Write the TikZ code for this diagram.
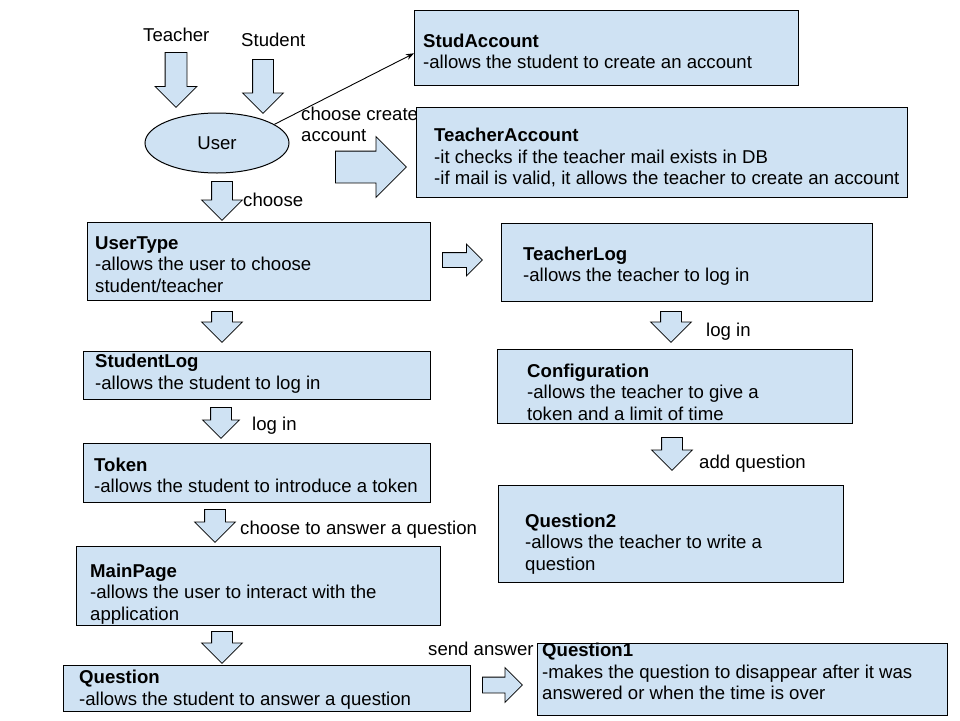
\documentclass[tikz,border=0pt]{standalone}
\usepackage{fontspec}
\setmainfont{Liberation Sans}
\usetikzlibrary{shapes.geometric,shapes.arrows,arrows.meta,calc}
\definecolor{boxfill}{HTML}{CFE2F3}
\tikzset{
  every node/.style={font=\fontsize{18.6}{21.5}\selectfont},
  box/.style={draw=black, line width=1pt, fill=boxfill, anchor=north west, inner sep=0pt},
  % multi-line texts are placed by the baseline of their last line
  desc/.style={anchor=base west, align=left, inner sep=0pt},
  lbl/.style={anchor=base west, align=left, inner sep=0pt},
  blockarrow/.style={single arrow, draw=black, line width=0.8pt, fill=boxfill, anchor=tail,
    inner xsep=0pt, single arrow tip angle=90, single arrow head indent=0pt},
  downarrow/.style={blockarrow, rotate=-90, inner ysep=10pt, single arrow head extend=10pt},
}
\begin{document}
\begin{tikzpicture}[x=1pt, y=-1pt]
\useasboundingbox (0,0) rectangle (960,720);

% boxes
\node[box, minimum width=384, minimum height=75] (studacc) at (414,10) {};
\node[box, minimum width=491, minimum height=90] (teachacc) at (416,107) {};
\node[box, minimum width=343, minimum height=78] (usertype) at (87,222) {};
\node[box, minimum width=371, minimum height=78] (teacherlog) at (501,223) {};
\node[box, minimum width=347, minimum height=48] (studentlog) at (83,351) {};
\node[box, minimum width=355, minimum height=74] (config) at (497,349) {};
\node[box, minimum width=347, minimum height=59] (token) at (83,443) {};
\node[box, minimum width=345, minimum height=97] (question2) at (498,485) {};
\node[box, minimum width=364, minimum height=79] (mainpage) at (76,546) {};
\node[box, minimum width=407, minimum height=46] (question) at (63,665) {};
\node[box, minimum width=410, minimum height=72] (question1) at (537,643) {};

% box texts
\node[desc] (tStudacc) at (423,68.5) {\textbf{StudAccount}\\-allows the student to create an account};
\node[desc] (tTeachacc) at (434,184.5) {\textbf{TeacherAccount}\\-it checks if the teacher mail exists in DB\\-if mail is valid, it allows the teacher to create an account};
\node[desc] (tUsertype) at (95,292) {\textbf{UserType}\\-allows the user to choose\\student/teacher};
\node[desc] (tTeacherlog) at (523,281.5) {\textbf{TeacherLog}\\-allows the teacher to log in};
\node[desc] (tStudentlog) at (95,389) {\textbf{StudentLog}\\-allows the student to log in};
\node[desc] (tConfig) at (527,420) {\textbf{Configuration}\\-allows the teacher to give a\\token and a limit of time};
\node[desc] (tToken) at (94,492.5) {\textbf{Token}\\-allows the student to introduce a token};
\node[desc] (tQuestion2) at (525,570) {\textbf{Question2}\\-allows the teacher to write a\\question};
\node[desc] (tMainpage) at (90,620) {\textbf{MainPage}\\-allows the user to interact with the\\application};
\node[desc] (tQuestion) at (79,705) {\textbf{Question}\\-allows the student to answer a question};
\node[desc] (tQuestion1) at (542,699.5) {\textbf{Question1}\\-makes the question to disappear after it was\\answered or when the time is over};

% user ellipse
\node[ellipse, draw=black, line width=1pt, fill=boxfill, minimum width=144, minimum height=60, inner sep=0pt] (user) at (217,143) {User};

% free labels
\node[lbl] (lTeacher) at (143,41.7) {Teacher};
\node[lbl] (lStudent) at (241,46.7) {Student};
\node[lbl] (lCreate) at (301,141.7) {choose create\\account};
\node[lbl] (lChoose) at (243,206.7) {choose};
\node[lbl] (lLogT) at (706,336) {log in};
\node[lbl] (lLogS) at (252,430) {log in};
\node[lbl] (lAddQ) at (699,468) {add question};
\node[lbl] (lAnswer) at (240,534) {choose to answer a question};
\node[lbl] (lSend) at (428,655) {send answer};

% block arrows pointing down, placed by their tails
\node[downarrow, inner ysep=10.5pt, minimum height=55] (aTeacher) at (176,52) {};
\node[downarrow, minimum height=54] (aStudent) at (263,59) {};
\node[downarrow, minimum height=39] (aChoose) at (222,181) {};
\node[downarrow, minimum height=31] (aUsertype) at (222,311) {};
\node[downarrow, minimum height=31] (aTeacherlog) at (671,311) {};
\node[downarrow, single arrow head extend=8pt, minimum height=31] (aStudentlog) at (221,407) {};
\node[downarrow, minimum height=33] (aConfig) at (672,437) {};
\node[downarrow, minimum height=33] (aToken) at (215,509) {};
\node[downarrow, minimum height=32] (aMainpage) at (222,631) {};

% block arrows pointing right
\node[blockarrow, inner ysep=15.5pt, single arrow head extend=14.5pt, minimum height=71] (aCreate) at (335,167) {};
\node[blockarrow, inner ysep=7pt, single arrow head extend=8.5pt, minimum height=40] (aToTeacherlog) at (442,260) {};
\node[blockarrow, inner ysep=7.5pt, single arrow head extend=9.5pt, minimum height=40] (aSend) at (482,685) {};

% thin connector to the student account
\draw[line width=0.9pt, -{Stealth[length=8pt, width=6pt]}] (user.18) -- ($(studacc.north west)!0.57!(studacc.south west)$);
\end{tikzpicture}
\end{document}
